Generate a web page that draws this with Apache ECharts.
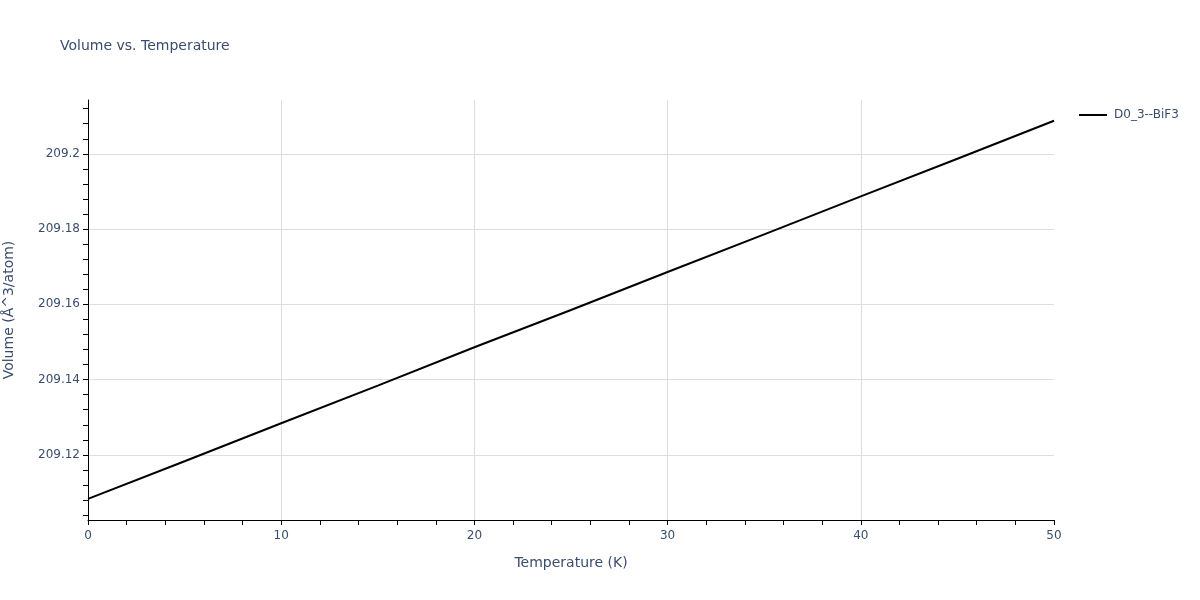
<!DOCTYPE html>
<html>
<head>
<meta charset="utf-8">
<script src="https://cdn.jsdelivr.net/npm/echarts@6/dist/echarts.min.js"></script>
<style>html,body{margin:0;padding:0;background:#fff}#c{width:1200px;height:600px}</style>
</head>
<body>
<div id="c"></div>
<script>
const temperatures = [0, 5, 10, 15, 20, 25, 30, 35, 40, 45, 50];
const volumes = [209.1083, 209.1183, 209.1284, 209.1384, 209.1486, 209.1585, 209.1686, 209.1786, 209.1887, 209.1987, 209.2088];
const seriesName = 'D0_3--BiF3';
const yMajorTicks = [209.12, 209.14, 209.16, 209.18, 209.2];
const yMinorTicks = [209.104, 209.108, 209.112, 209.116, 209.12, 209.124, 209.128, 209.132, 209.136, 209.14, 209.144, 209.148, 209.152, 209.156, 209.16, 209.164, 209.168, 209.172, 209.176, 209.18, 209.184, 209.188, 209.192, 209.196, 209.2, 209.204, 209.208, 209.212];
const yMin = 209.1027, yMax = 209.2143;

const font = '"DejaVu Sans", Verdana, sans-serif';
const txt = '#3a4d6e';
const chart = echarts.init(document.getElementById('c'), null, {renderer: 'canvas'});
chart.setOption({
  animation: false,
  backgroundColor: '#fff',
  title: {text: 'Volume vs. Temperature', left: 55, top: 34, textStyle: {fontFamily: font, fontSize: 14, fontWeight: 'normal', color: txt}},
  legend: {left: 1079, top: 109, padding: 0, itemWidth: 28, itemHeight: 2, itemGap: 6, icon: 'rect',
    textStyle: {fontFamily: font, fontSize: 12, color: txt, padding: [0, 0, 0, 2]}, data: [seriesName]},
  grid: {left: 88, right: 146, top: 100, bottom: 80, outerBoundsMode: 'none', containLabel: false},
  xAxis: {type: 'value', min: 0, max: 50, interval: 10,
    name: 'Temperature (K)', nameLocation: 'middle', nameGap: 36,
    nameTextStyle: {fontFamily: font, fontSize: 14, color: txt},
    axisLine: {show: true, onZero: false, lineStyle: {color: '#000', width: 1}},
    axisTick: {show: true, length: 5, lineStyle: {color: '#000'}},
    minorTick: {show: true, splitNumber: 5, length: 5, lineStyle: {color: '#000'}},
    axisLabel: {fontFamily: font, fontSize: 12, color: txt, margin: 10},
    splitLine: {show: true, showMinLine: false, showMaxLine: false, lineStyle: {color: '#dedede', width: 1}}},
  yAxis: [{type: 'value', min: yMin, max: yMax, position: 'left',
    name: 'Volume (Å^3/atom)', nameLocation: 'middle', nameGap: 72,
    nameTextStyle: {fontFamily: font, fontSize: 14, color: txt},
    axisLine: {show: true, onZero: false, lineStyle: {color: '#000', width: 1}},
    axisTick: {show: true, length: 5, customValues: yMinorTicks, lineStyle: {color: '#000'}},
    axisLabel: {fontFamily: font, fontSize: 12, color: txt, margin: 8, customValues: yMajorTicks,
      formatter: v => String(+v.toFixed(3))},
    splitLine: {show: false}},
    {type: 'value', min: yMin, max: yMax, position: 'left',
    axisLine: {show: false}, axisLabel: {show: false},
    axisTick: {show: false, customValues: yMajorTicks},
    splitLine: {show: true, lineStyle: {color: '#dedede', width: 1}}}],
  series: [{name: seriesName, type: 'line', yAxisIndex: 0, symbol: 'none', smooth: false,
    data: temperatures.map((t, i) => [t, volumes[i]]),
    lineStyle: {color: '#000', width: 2}, itemStyle: {color: '#000'}}]
});
</script>
</body>
</html>
